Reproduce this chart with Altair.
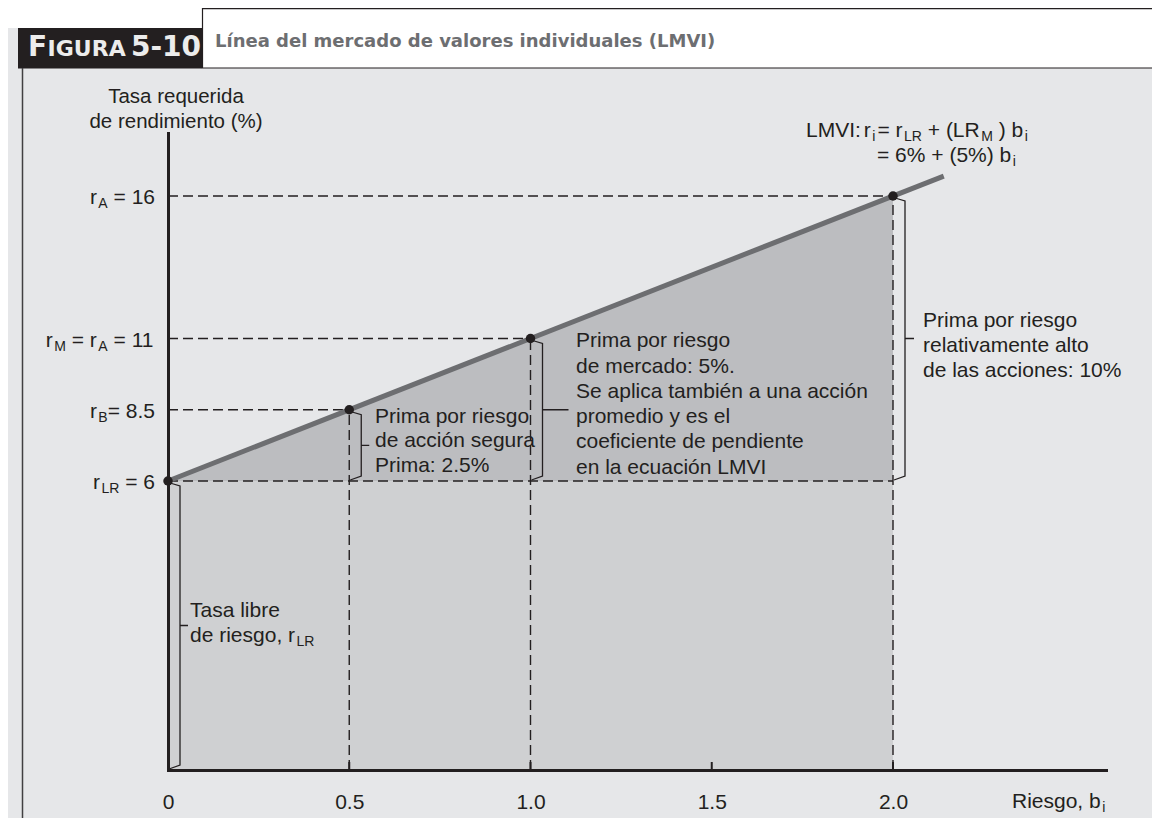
import altair as alt
import pandas as pd

# ----------------------------- data -----------------------------
beta_points = [0.0, 0.5, 1.0, 2.0]          # beta of the marked securities
rate_points = [6.0, 8.5, 11.0, 16.0]        # required return (%)
sml_beta = [0.0, 2.14]                      # drawn extent of the LMVI line
sml_rate = [6.0, 16.7]
risk_free = 6.0
shade_beta = [0.0, 2.0]
shade_rate = [6.0, 16.0]
x_tick_values = [0.0, 0.5, 1.0, 1.5, 2.0]
inner_tick_values = [0.5, 1.0, 1.5, 2.0]

# dashed guides from the axes to each point
guide_b1 = [0.0, 0.0, 0.0, 0.0, 0.5, 1.0, 2.0]
guide_b2 = [2.0, 1.0, 0.5, 2.0, 0.5, 1.0, 2.0]
guide_r1 = [16.0, 11.0, 8.5, 6.0, 0.0, 0.0, 0.0]
guide_r2 = [16.0, 11.0, 8.5, 6.0, 8.5, 11.0, 16.0]

# brackets (premium spans)
bracket_beta = [0.0, 0.5, 1.0, 2.0]
bracket_low = [0.0, 6.0, 6.0, 6.0]
bracket_high = [6.0, 8.5, 11.0, 16.0]

# texts
header_parts = ["F", "IGURA", "5-10"]
title_text = "Línea del mercado de valores individuales (LMVI)"
y_title_lines = ["Tasa requerida", "de rendimiento (%)"]
y_label_rates = [16.0, 11.0, 8.5, 6.0]
y_label_segments = [
    [("r", "main"), ("A", "sub"), (" = 16", "main")],
    [("r", "main"), ("M", "sub"), (" = r", "main"), ("A", "sub"), (" = 11", "main")],
    [("r", "main"), ("B", "sub"), ("= 8.5", "main")],
    [("r", "main"), ("LR", "sub"), (" = 6", "main")],
]
eq_line1 = [("LMVI:", "main"), (3.0, "gap"), ("r", "main"), ("i", "sub"), (2.0, "gap"),
            ("= r", "main"), ("LR", "sub"), (" + (LR", "main"), ("M", "sub"), (" ) b", "main"),
            ("i", "sub")]
eq_line2 = [("= 6% + (5%) b", "main"), ("i", "sub")]
note_safe = ["Prima por riesgo", "de acción segura", "Prima: 2.5%"]
note_market = ["Prima por riesgo", "de mercado: 5%.", "Se aplica también a una acción",
               "promedio y es el", "coeficiente de pendiente", "en la ecuación LMVI"]
note_high = ["Prima por riesgo", "relativamente alto", "de las acciones: 10%"]
note_free_1 = "Tasa libre"
note_free_2 = [("de riesgo, r", "main"), ("LR", "sub")]
x_title_segments = [("Riesgo, b", "main"), ("i", "sub")]

# ----------------------------- layout / style -----------------------------
INK = "#231f20"
BG = "#e6e7e9"
LOW_FILL = "#cfd0d2"
HIGH_FILL = "#bcbdc0"
LINE_COL = "#6d6e71"
FONT = "Liberation Sans"
HFONT = "DejaVu Sans"
MAIN = 21.0
SUB = 14.0

PLOT_L, PLOT_T = 168, 133          # page position of the plot origin
PLOT_W, PLOT_H = 938, 637
PXB = 362.5                        # px per unit of beta
Y_BREAK = 348                      # px (from plot top) of the 6 % level
LOW_SLOPE = (PLOT_H - Y_BREAK) / 6.0
HIGH_SLOPE = 28.5
Y_TOP = 6 + Y_BREAK / HIGH_SLOPE
X_MAX = PLOT_W / PXB

def y_of(r):
    return PLOT_H - r * LOW_SLOPE if r <= 6 else Y_BREAK - (r - 6) * HIGH_SLOPE

def r_of(y):
    return (PLOT_H - y) / LOW_SLOPE if y >= Y_BREAK else 6 + (Y_BREAK - y) / HIGH_SLOPE

def px(X):
    return X - PLOT_L

def py(Y):
    return Y - PLOT_T

ARIAL = {' ': 278, '=': 584, '+': 584, '(': 333, ')': 333, '%': 889, ':': 278, ',': 278,
         '.': 278, 'r': 333, 'b': 556, 'i': 222, 'e': 556, 's': 500, 'g': 556, 'o': 556,
         'd': 556, 'a': 556, 'l': 222, 'n': 556, 't': 278, 'm': 833, 'c': 500, 'p': 556,
         'u': 556, 'f': 278, 'L': 556, 'M': 833, 'V': 667, 'I': 278, 'R': 722, 'A': 667,
         'B': 667, 'T': 611, 'P': 667, 'S': 667}

def tw(s, size):
    return sum(ARIAL.get(c, 556) for c in s) / 1000.0 * size

def seg_width(segs):
    w = 0.0
    for t, k in segs:
        if k == "main":
            w += tw(t, MAIN)
        elif k == "sub":
            w += 1.5 + tw(t, SUB)
        elif k == "gap":
            w += t
    return w

text_rows = []

def place(segs, x0, base):
    x = x0
    for t, k in segs:
        if k == "main":
            lead = len(t) - len(t.lstrip())
            x += tw(t[:lead], MAIN)
            text_rows.append(dict(t=t.lstrip(), X=x, Y=base, kind="main"))
            x += tw(t.lstrip(), MAIN)
        elif k == "sub":
            x += 1.5
            text_rows.append(dict(t=t, X=x, Y=base + 4, kind="sub"))
            x += tw(t, SUB)
        elif k == "gap":
            x += t

# y labels, right edge at x=155
for r, segs in zip(y_label_rates, y_label_segments):
    place(segs, 155 - seg_width(segs), PLOT_T + y_of(r) + 8)
# equation
place(eq_line1, 806, 137)
place(eq_line2, 877, 162)
# annotations
for line, base in zip(note_safe, [423, 447, 472]):
    place([(line, "main")], 375, base)
for line, base in zip(note_market, [347, 373, 398, 423, 448, 474]):
    place([(line, "main")], 576, base)
for line, base in zip(note_high, [327, 352, 377]):
    place([(line, "main")], 923, base)
place([(note_free_1, "main")], 190, 617)
place(note_free_2, 190, 642)
# x title
place(x_title_segments, 1012, 808)

tdf = pd.DataFrame(text_rows)
tdf["b"] = (tdf["X"] - PLOT_L) / PXB
tdf["r"] = [r_of(y - PLOT_T) for y in tdf["Y"]]

ytdf = pd.DataFrame({"t": y_title_lines,
                     "b": [(176 - PLOT_L) / PXB] * 2,
                     "r": [r_of(103 - PLOT_T), r_of(128 - PLOT_T)]})

# ----------------------------- encodings -----------------------------
xscale = alt.Scale(domain=[0, X_MAX], nice=False, zero=False)
yscale = alt.Scale(domain=[0, 6, Y_TOP], range=[PLOT_H, Y_BREAK, 0], nice=False, zero=False)

x_axis = alt.Axis(values=x_tick_values,
                  labelExpr="datum.value == 0 ? '0' : format(datum.value, '.1f')",
                  title=None, ticks=False, tickSize=0, grid=False, domainColor=INK,
                  domainWidth=3, domainCap="square", labelFont=FONT, labelFontSize=MAIN,
                  labelColor=INK, labelPadding=38, labelBaseline="alphabetic",
                  labelFlush=False, labelOverlap=False, zindex=1)
y_axis = alt.Axis(labels=False, ticks=False, grid=False, title=None, domainColor=INK,
                  domainWidth=3, domainCap="square", zindex=1)

def xe(f):
    return alt.X(f, type="quantitative", scale=xscale, axis=x_axis)

def ye(f):
    return alt.Y(f, type="quantitative", scale=yscale, axis=y_axis)

def one():
    return alt.Chart(pd.DataFrame({"k": [0]}))

# decoration (header and frame)
white_strip = one().mark_rect(color="white").encode(
    x=alt.value(px(8)), x2=alt.value(px(203)), y=alt.value(py(8)), y2=alt.value(py(28)))
title_box = one().mark_rect(fill="white", stroke=INK, strokeWidth=1.2).encode(
    x=alt.value(px(202.5)), x2=alt.value(px(1175)), y=alt.value(py(8.6)), y2=alt.value(py(68)))
dark_box = one().mark_rect(color=INK).encode(
    x=alt.value(px(18)), x2=alt.value(px(202)), y=alt.value(py(28)), y2=alt.value(py(68.5)))
frame_line = one().mark_rule(color="#414042", strokeWidth=1.5).encode(
    x=alt.value(px(22.5)), y=alt.value(py(68)), y2=alt.value(py(830)))

F_W = 0.683 * 28
h_f = one().mark_text(align="left", baseline="alphabetic", font=HFONT, fontWeight="bold",
                      fontSize=28, color="#ececec").encode(
    x=alt.value(px(28)), y=alt.value(py(56)), text=alt.value(header_parts[0]))
h_igura = one().mark_text(align="left", baseline="alphabetic", font=HFONT, fontWeight="bold",
                          fontSize=22, color="#ececec").encode(
    x=alt.value(px(28 + F_W + 0.5)), y=alt.value(py(56)), text=alt.value(header_parts[1]))
h_num = one().mark_text(align="right", baseline="alphabetic", font=HFONT, fontWeight="bold",
                        fontSize=28, color="#ececec").encode(
    x=alt.value(px(201)), y=alt.value(py(56)), text=alt.value(header_parts[2]))
h_title = one().mark_text(align="left", baseline="alphabetic", font=HFONT, fontWeight="bold",
                          fontSize=18, color=LINE_COL).encode(
    x=alt.value(px(215)), y=alt.value(py(47)), text=alt.value(title_text))

# shaded areas
low_rect = alt.Chart(pd.DataFrame({"b1": [shade_beta[0]], "b2": [shade_beta[1]],
                                   "r1": [0.0], "r2": [risk_free]})).mark_rect(color=LOW_FILL).encode(
    x=xe("b1"), x2="b2:Q", y=ye("r1"), y2="r2:Q")

tri = alt.Chart(pd.DataFrame({"b": shade_beta, "r": shade_rate, "base": [risk_free] * 2})).mark_area(
    color=HIGH_FILL, opacity=1).encode(x=xe("b"), y=ye("r"), y2="base:Q")

guides = alt.Chart(pd.DataFrame({"b1": guide_b1, "b2": guide_b2, "r1": guide_r1, "r2": guide_r2})).mark_rule(
    color=INK, strokeWidth=1.4, strokeDash=[10, 5]).encode(x=xe("b1"), x2="b2:Q", y=ye("r1"), y2="r2:Q")

sml = alt.Chart(pd.DataFrame({"b": sml_beta, "r": sml_rate})).mark_line(
    color=LINE_COL, strokeWidth=5).encode(x=xe("b"), y=ye("r"))

# brackets
TICK_LEN = [8, 8, 26, 9]
br_rows = []
for i, (b, lo, hi) in enumerate(zip(bracket_beta, bracket_low, bracket_high)):
    def pt(dx, r, dy):
        return (b + dx / PXB, r_of(y_of(r) + dy))
    mid = (lo + hi) / 2
    path = [pt(2, hi, 2), pt(12, hi, 5), pt(12, mid, 0), pt(12 + TICK_LEN[i], mid, 0),
            pt(12, mid, 0), pt(12, lo, -5), pt(1, lo, -1)]
    for k, (bb, rr) in enumerate(path):
        br_rows.append(dict(id=i, k=k, b=bb, r=rr))
brackets = alt.Chart(pd.DataFrame(br_rows)).mark_line(color=INK, strokeWidth=1.3).encode(
    x=xe("b"), y=ye("r"), detail="id:N", order="k:Q")

points = alt.Chart(pd.DataFrame({"b": beta_points, "r": rate_points})).mark_circle(
    color=INK, size=90, opacity=1).encode(x=xe("b"), y=ye("r"))

ticks = alt.Chart(pd.DataFrame({"b": inner_tick_values})).mark_rule(color=INK, strokeWidth=2).encode(
    x=xe("b"), y=alt.value(PLOT_H), y2=alt.value(PLOT_H - 8))

main_text = alt.Chart(tdf[tdf.kind == "main"]).mark_text(
    align="left", baseline="alphabetic", font=FONT, fontSize=MAIN, color=INK).encode(
    x=xe("b"), y=ye("r"), text="t:N")
sub_text = alt.Chart(tdf[tdf.kind == "sub"]).mark_text(
    align="left", baseline="alphabetic", font=FONT, fontSize=SUB, color=INK).encode(
    x=xe("b"), y=ye("r"), text="t:N")
y_title = alt.Chart(ytdf).mark_text(
    align="center", baseline="alphabetic", font=FONT, fontSize=20.5, color=INK).encode(
    x=xe("b"), y=ye("r"), text="t:N")

chart = alt.layer(
    white_strip, title_box, dark_box, frame_line, h_f, h_igura, h_num, h_title,
    low_rect, tri, guides, sml, brackets, points, ticks, main_text, sub_text, y_title
).properties(
    width=PLOT_W, height=PLOT_H,
    padding={"left": 160, "top": 125, "right": 46, "bottom": 48},
    autosize=alt.AutoSizeParams(type="none"),
    background=BG,
).configure_view(stroke=None)

chart.save("out.html", embed_options={"renderer": "svg", "actions": False})
